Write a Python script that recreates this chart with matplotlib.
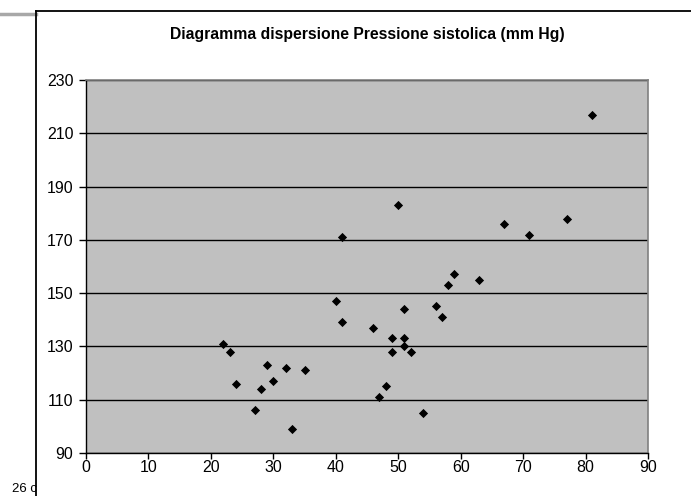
import matplotlib
matplotlib.use("Agg")
import matplotlib.pyplot as plt
from matplotlib.lines import Line2D

# Età (anni) e pressione sistolica (mm Hg)
eta = [22, 23, 24, 27, 28, 29, 30, 32, 33, 35, 40, 41, 41, 46, 47, 48, 49, 49,
       50, 51, 51, 51, 52, 54, 56, 57, 58, 59, 63, 67, 71, 77, 81]
pressione = [131, 128, 116, 106, 114, 123, 117, 122, 99, 121, 147, 139, 171, 137,
             111, 115, 133, 128, 183, 144, 133, 130, 128, 105, 145, 141, 153, 157,
             155, 176, 172, 178, 217]

x_ticks = list(range(0, 91, 10))
y_ticks = list(range(90, 231, 20))
titolo = "Diagramma dispersione Pressione sistolica (mm Hg)"

W, H = 691, 496
plt.rcParams["font.family"] = ["Liberation Sans", "DejaVu Sans"]

fig = plt.figure(figsize=(W / 100, H / 100), dpi=100, facecolor="white")

# plot area in pixel coordinates
x0, x1 = 86, 648
y_top, y_bot = 80, 453
ax = fig.add_axes([x0 / W, 1 - y_bot / H, (x1 - x0) / W, (y_bot - y_top) / H])
ax.set_facecolor("#c0c0c0")

ax.scatter(eta, pressione, marker="D", s=22, color="black", zorder=3,
           linewidths=0)

ax.set_xlim(0, 90)
ax.set_ylim(90, 230)
ax.set_xticks(x_ticks)
ax.set_yticks(y_ticks)
ax.grid(axis="y", color="black", linewidth=1.0)
ax.set_axisbelow(True)

for side in ["left", "bottom"]:
    ax.spines[side].set_color("black")
    ax.spines[side].set_linewidth(1.0)
for side in ["top", "right"]:
    ax.spines[side].set_color("#808080")
    ax.spines[side].set_linewidth(1.2)

ax.tick_params(direction="out", length=5, width=1, colors="black",
               labelsize=11.5, pad=4)
ax.tick_params(axis="x", length=4, pad=1)

fig.text((x0 + x1) / 2 / W, 1 - 35 / H, titolo, ha="center", va="center",
         fontsize=11.3, fontweight="bold")

# chart frame and slide decorations
fig.text(12 / W, 1 - 489 / H, "26 c", fontsize=9.5, ha="left", va="center")
fig.add_artist(Line2D([0, 36 / W], [1 - 13.5 / H, 1 - 13.5 / H],
                      color="#a8a8a8", linewidth=2.5))
fig.add_artist(Line2D([36 / W, 1], [1 - 11 / H, 1 - 11 / H],
                      color="black", linewidth=1.3))
fig.add_artist(Line2D([36 / W, 36 / W], [0, 1 - 11 / H],
                      color="black", linewidth=1.3))

fig.savefig("out.png", dpi=100, facecolor="white")
